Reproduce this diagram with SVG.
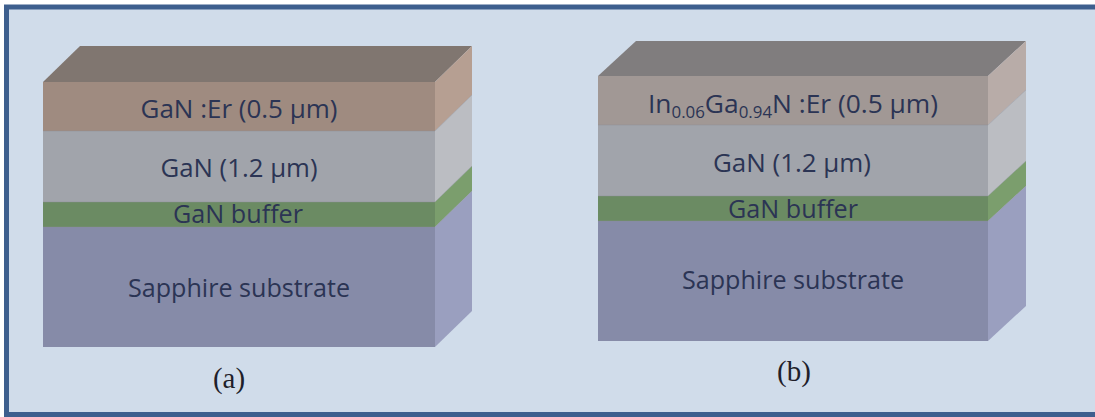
<svg xmlns="http://www.w3.org/2000/svg" width="1095" height="417" viewBox="0 0 1095 417">
  <style>
    .lbl { font-family: "Open Sans", "Liberation Sans", sans-serif; font-size: 25px; fill: #2b3454; text-anchor: middle; }
    .sub { font-size: 16px; }
    .cap { font-family: "Liberation Serif", "Times New Roman", serif; font-size: 29px; fill: #1f1f2a; text-anchor: middle; }
    .edge { stroke: #8d8f98; stroke-width: 0.8; stroke-opacity: 0.5; }
    .top-a { fill: #807670; }
    .top-b { fill: #807d7e; }
    .er-a { fill: #9f8b80; }
    .er-a-side { fill: #b69f92; }
    .er-b { fill: #a19895; }
    .er-b-side { fill: #b8aca8; }
    .gan { fill: #a1a4ab; }
    .gan-side { fill: #bbbdc2; }
    .buf { fill: #6b8b63; }
    .buf-side { fill: #7b9e6d; }
    .sap { fill: #868ba8; }
    .sap-side { fill: #9a9fbf; }
  </style>

  <!-- panel background and frame -->
  <rect x="6.5" y="7" width="1092" height="407.5" fill="#d0dcea" stroke="#3e5f8e" stroke-width="5"/>

  <!-- (a) stack: GaN:Er on GaN / buffer / sapphire -->
  <g id="stack-a">
    <polygon class="top-a" points="43,82 80,46 472,46 435,82"/>
    <rect class="er-a" x="43" y="82" width="392" height="49"/>
    <polygon class="er-a-side" points="435,82 472,46 472,95 435,131"/>
    <rect class="gan" x="43" y="131" width="392" height="71"/>
    <polygon class="gan-side" points="435,131 472,95 472,166 435,202"/>
    <rect class="buf" x="43" y="202" width="392" height="25"/>
    <polygon class="buf-side" points="435,202 472,166 472,191 435,227"/>
    <rect class="sap" x="43" y="227" width="392" height="120"/>
    <polygon class="sap-side" points="435,227 472,191 472,311 435,347"/>
    <path class="edge" fill="none" d="M43,131H435L472,95M43,202H435L472,166M43,227H435L472,191"/>
    <text class="lbl" x="239" y="118" textLength="197" lengthAdjust="spacingAndGlyphs">GaN :Er (0.5 µm)</text>
    <text class="lbl" x="239" y="177" textLength="157" lengthAdjust="spacingAndGlyphs">GaN (1.2 µm)</text>
    <text class="lbl" x="238" y="223" textLength="130" lengthAdjust="spacingAndGlyphs">GaN buffer</text>
    <text class="lbl" x="239" y="297" textLength="222" lengthAdjust="spacingAndGlyphs">Sapphire substrate</text>
    <text class="cap" x="229" y="388">(a)</text>
  </g>

  <!-- (b) stack: InGaN:Er on GaN / buffer / sapphire -->
  <g id="stack-b">
    <polygon class="top-b" points="598,76 636,41 1026,41 988,76"/>
    <rect class="er-b" x="598" y="76" width="390" height="49"/>
    <polygon class="er-b-side" points="988,76 1026,41 1026,90 988,125"/>
    <rect class="gan" x="598" y="125" width="390" height="71"/>
    <polygon class="gan-side" points="988,125 1026,90 1026,161 988,196"/>
    <rect class="buf" x="598" y="196" width="390" height="25"/>
    <polygon class="buf-side" points="988,196 1026,161 1026,186 988,221"/>
    <rect class="sap" x="598" y="221" width="390" height="120"/>
    <polygon class="sap-side" points="988,221 1026,186 1026,306 988,341"/>
    <path class="edge" fill="none" d="M598,125H988L1026,90M598,196H988L1026,161M598,221H988L1026,186"/>
    <text class="lbl" x="793" y="113" textLength="290" lengthAdjust="spacingAndGlyphs">In<tspan class="sub" dy="5">0.06</tspan><tspan dy="-5">Ga</tspan><tspan class="sub" dy="5">0.94</tspan><tspan dy="-5">N :Er (0.5 µm)</tspan></text>
    <text class="lbl" x="792" y="172" textLength="158" lengthAdjust="spacingAndGlyphs">GaN (1.2 µm)</text>
    <text class="lbl" x="793" y="218" textLength="130" lengthAdjust="spacingAndGlyphs">GaN buffer</text>
    <text class="lbl" x="793" y="289" textLength="222" lengthAdjust="spacingAndGlyphs">Sapphire substrate</text>
    <text class="cap" x="794" y="381">(b)</text>
  </g>
</svg>
